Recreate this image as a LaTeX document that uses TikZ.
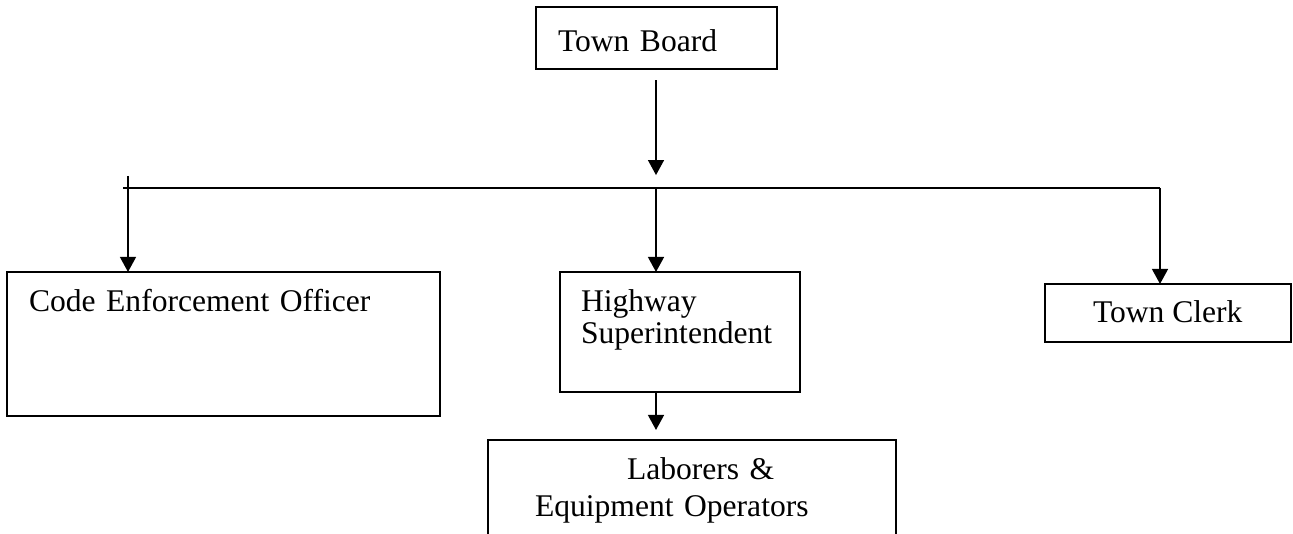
\documentclass[tikz,border=0pt]{standalone}
\usepackage{fontspec}
\setmainfont{Liberation Serif}
\usetikzlibrary{arrows.meta}

\tikzset{
  unit/.style={draw, line width=0.75pt, anchor=north west, inner ysep=0pt, outer sep=0pt,
    align=left, font=\fontsize{12}{14}\selectfont},
  arr/.style={line width=0.75pt, -{Triangle[width=6pt,length=5.7pt]}},
  bus/.style={line width=0.55pt}
}

\begin{document}
\begin{tikzpicture}[x=0.38pt, y=-0.38pt]
\clip (0,0) rectangle (1293,534);

\node[unit, inner xsep=8.36pt, text width=74.86pt, text height=17.1pt, text depth=6.46pt] (board) at (536,7) {Town Board};
\node[unit, inner xsep=8.36pt, text width=147.82pt, text height=15.2pt, text depth=39.5pt] (code) at (7,272) {Code Enforcement Officer};
\node[unit, inner xsep=7.98pt, text width=75.24pt, text height=15.2pt, text depth=30.4pt,
  font=\fontsize{12}{10.64}\selectfont] (hwy) at (560,272) {Highway\\Superintendent};
\node[unit, align=center, minimum width=93.29pt, text height=14.82pt, text depth=7.22pt] (clerk) at (1045,284) {Town Clerk};
\node[unit, inner xsep=17.86pt, text width=119.32pt, text height=15.2pt, text depth=30.4pt] (lab) at (488,440) {\hspace*{34.96pt}Laborers \&\\Equipment Operators};

\coordinate (drop) at (656,188);
\coordinate (busL) at (123,188);
\coordinate (busR) at (1160,188);
\coordinate (codetop) at (128,176);

\draw[arr, shorten <=4.2pt, shorten >=4.9pt] (board.south -| drop) -- (drop);
\draw[bus] (busL) -- (busR);
\draw[arr] (codetop) -- (codetop |- code.north);
\draw[arr] (drop) -- (drop |- hwy.north);
\draw[arr] (busR) -- (busR |- clerk.north);
\draw[arr, shorten >=3.8pt] (drop |- hwy.south) -- (drop |- lab.north);

\end{tikzpicture}
\end{document}
